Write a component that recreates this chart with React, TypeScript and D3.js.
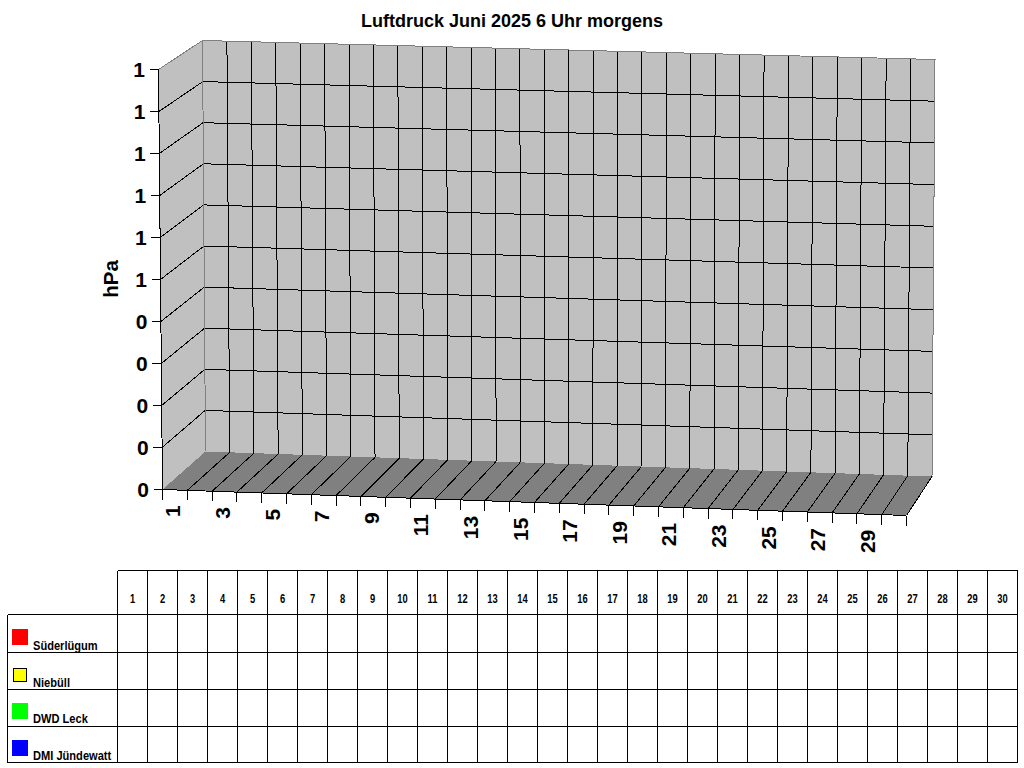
import React from "react";
import * as d3 from "d3";

const days = d3.range(1, 31);
const xLabels = days.filter((d) => d % 2 === 1);
const yTickLabels = ["0", "0", "0", "0", "0", "1", "1", "1", "1", "1", "1"];
const stations = ["Süderlügum", "Niebüll", "DWD Leck", "DMI Jündewatt"];
const stationColors = ["#ff0000", "#ffff00", "#00ff00", "#0000ff"];

const FONT = "'Liberation Sans', Arial, sans-serif";
const WALL = "#c0c0c0";
const FLOOR = "#808080";
const EDGE = "#808080";

const nDays = days.length;
const nLevels = yTickLabels.length - 1;

// front edge of the floor and back edge, along the days
const frontX = d3.scaleLinear().domain([0, nDays]).range([162.5, 906.5]);
const frontY = d3.scaleLinear().domain([0, nDays]).range([489.5, 515.5]);
const backBottomX = d3.scaleLinear().domain([0, nDays]).range([205.5, 932]);
const backBottomY = d3.scaleLinear().domain([0, nDays]).range([451.5, 476.5]);
const backTopX = d3.scaleLinear().domain([0, nDays]).range([202.5, 935]);
const backTopY = d3.scaleLinear().domain([0, nDays]).range([40.5, 59.5]);

// walls, along the levels
const leftY = d3.scaleLinear().domain([0, nLevels]).range([489.5, 69.5]);
const leftX = d3.scaleLinear().domain([0, nLevels]).range([162.5, 158.5]);
const backLeftY = d3.scaleLinear().domain([0, nLevels]).range([451.5, 40.5]);
const backLeftX = d3.scaleLinear().domain([0, nLevels]).range([205.5, 202.5]);
const backRightY = d3.scaleLinear().domain([0, nLevels]).range([476.5, 59.5]);
const backRightX = d3.scaleLinear().domain([0, nLevels]).range([932, 935]);

// table below the chart
const colX = d3.scaleLinear().domain([0, nDays]).range([117.5, 1017.5]);
const rowY = d3.scaleLinear().domain([0, 1, stations.length]).range([614.5, 652.8, 762.9]);
const TABLE_TOP = 570.5;
const TABLE_LEFT = 7.5;

const poly = d3.line();
const pts = (...p: [number, number][]) => poly(p) + "Z";

export default function App() {
  const levels = d3.range(1, nLevels);
  const slots = d3.range(0, nDays + 1);
  return (
    <svg
      width={1024}
      height={768}
      style={{ position: "absolute", left: 0, top: 0, display: "block", background: "#fff" }}
      fontFamily={FONT}
      fontWeight="bold"
    >
      <text x={512} y={27} textAnchor="middle" fontSize={18}>
        Luftdruck Juni 2025 6 Uhr morgens
      </text>
      <text transform="translate(117.5,279) rotate(-90)" textAnchor="middle" fontSize={20.5}>
        hPa
      </text>

      <g shapeRendering="crispEdges">
        {/* walls and floor */}
        <path
          d={pts([leftX(0), leftY(0)], [leftX(nLevels), leftY(nLevels)], [backLeftX(nLevels), backLeftY(nLevels)], [backLeftX(0), backLeftY(0)])}
          fill={WALL}
        />
        <path
          d={pts([backLeftX(0), backLeftY(0)], [backLeftX(nLevels), backLeftY(nLevels)], [backRightX(nLevels), backRightY(nLevels)], [backRightX(0), backRightY(0)])}
          fill={WALL}
        />
        <path
          d={pts([frontX(0), frontY(0)], [backBottomX(0), backBottomY(0)], [backBottomX(nDays), backBottomY(nDays)], [frontX(nDays), frontY(nDays)])}
          fill={FLOOR}
        />

        {/* back wall verticals */}
        {slots.slice(1, -1).map((i) => (
          <line key={i} x1={backBottomX(i)} y1={backBottomY(i)} x2={backTopX(i)} y2={backTopY(i)} stroke="#000" />
        ))}
        {/* floor lines */}
        {slots.slice(1, -1).map((i) => (
          <line key={i} x1={frontX(i)} y1={frontY(i)} x2={backBottomX(i)} y2={backBottomY(i)} stroke="#000" />
        ))}
        {/* level lines */}
        {levels.map((l) => (
          <g key={l} stroke="#000">
            <line x1={leftX(l)} y1={leftY(l)} x2={backLeftX(l)} y2={backLeftY(l)} />
            <line x1={backLeftX(l)} y1={backLeftY(l)} x2={backRightX(l)} y2={backRightY(l)} />
          </g>
        ))}

        {/* gray edges */}
        <g stroke={EDGE} fill="none">
          <line x1={leftX(nLevels)} y1={leftY(nLevels)} x2={backLeftX(nLevels)} y2={backLeftY(nLevels)} />
          <line x1={backLeftX(nLevels)} y1={backLeftY(nLevels)} x2={backRightX(nLevels)} y2={backRightY(nLevels)} />
          <line x1={backLeftX(0)} y1={backLeftY(0)} x2={backLeftX(nLevels)} y2={backLeftY(nLevels)} />
          <line x1={backRightX(0)} y1={backRightY(0)} x2={backRightX(nLevels)} y2={backRightY(nLevels)} />
        </g>

        {/* black axes */}
        <g stroke="#000">
          <line x1={leftX(0)} y1={leftY(0)} x2={leftX(nLevels)} y2={leftY(nLevels)} />
          <line x1={frontX(0)} y1={frontY(0)} x2={frontX(nDays)} y2={frontY(nDays)} />
          <line x1={frontX(nDays)} y1={frontY(nDays)} x2={backBottomX(nDays)} y2={backBottomY(nDays)} />
          {yTickLabels.map((_, l) => (
            <line key={l} x1={leftX(l) - 9} y1={leftY(l)} x2={leftX(l)} y2={leftY(l)} />
          ))}
          {slots.map((i) => (
            <line key={i} x1={frontX(i)} y1={frontY(i)} x2={frontX(i)} y2={frontY(i) + 10} />
          ))}
        </g>
      </g>

      {/* axis labels */}
      {yTickLabels.map((t, l) => (
        <text key={l} x={leftX(l) - 13.5} y={leftY(l) + 7.5} textAnchor="end" fontSize={21}>
          {t}
        </text>
      ))}
      {xLabels.map((d) => {
        const cx = frontX(d - 0.5);
        const cy = frontY(d - 0.5);
        return (
          <text
            key={d}
            transform={`translate(${cx + 5.5},${cy + 15.5}) rotate(-90)`}
            textAnchor="end"
            fontSize={21}
          >
            {d}
          </text>
        );
      })}

      {/* table */}
      <g stroke="#000" shapeRendering="crispEdges">
        <line x1={colX(0)} y1={TABLE_TOP} x2={colX(nDays)} y2={TABLE_TOP} />
        {d3.range(0, stations.length + 1).map((r) => (
          <line
            key={r}
            x1={TABLE_LEFT}
            y1={rowY(r)}
            x2={r === 0 || r === stations.length ? colX(nDays) : colX(nDays) - 1}
            y2={rowY(r)}
          />
        ))}
        <line x1={TABLE_LEFT} y1={rowY(0)} x2={TABLE_LEFT} y2={rowY(stations.length)} />
        {slots.map((i) => (
          <line key={i} x1={colX(i)} y1={TABLE_TOP} x2={colX(i)} y2={rowY(stations.length)} />
        ))}
      </g>
      {days.map((d, i) => (
        <text
          key={d}
          transform={`translate(${colX(i + 0.5)},603) scale(0.78,1)`}
          textAnchor="middle"
          fontSize={12}
        >
          {d}
        </text>
      ))}
      {stations.map((s, r) => {
        const bottom = rowY(r + 1);
        const yellow = stationColors[r] === "#ffff00";
        return (
          <g key={s}>
            <rect
              x={yellow ? 13.5 : 12}
              y={yellow ? bottom - 21 : bottom - 23.4}
              width={yellow ? 13 : 16}
              height={yellow ? 13 : 16}
              fill={stationColors[r]}
              stroke={yellow ? "#000" : "none"}
              shapeRendering="crispEdges"
            />
            <text transform={`translate(33,${bottom - 3}) scale(0.925,1)`} fontSize={12}>
              {s}
            </text>
          </g>
        );
      })}
    </svg>
  );
}
